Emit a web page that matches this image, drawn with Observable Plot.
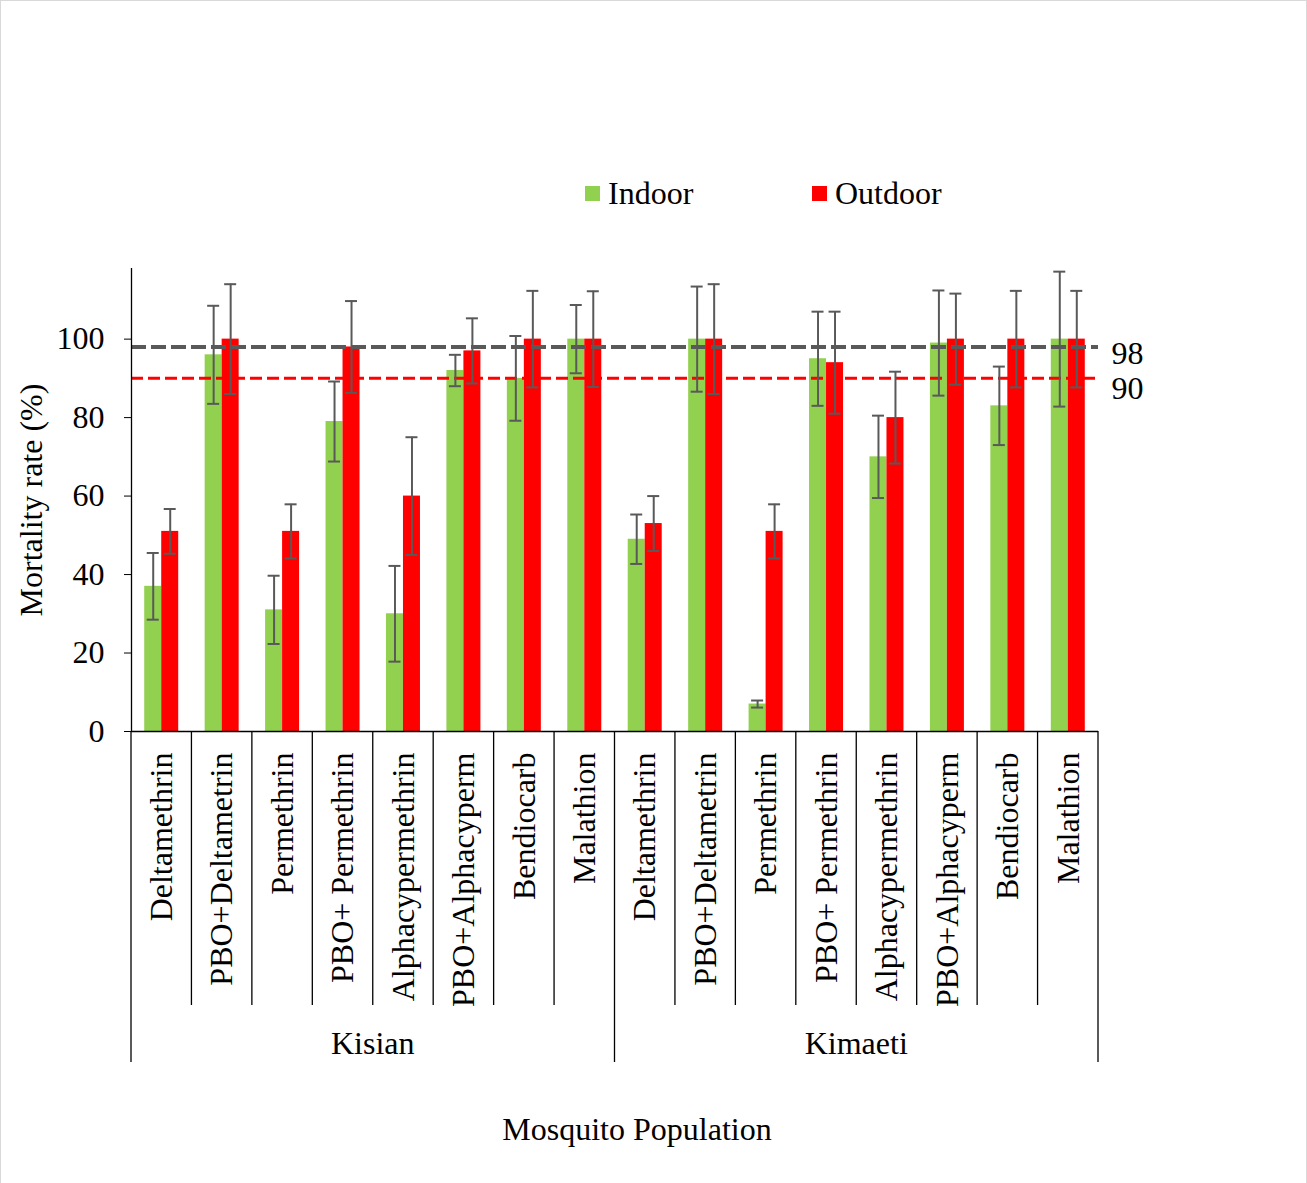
<!DOCTYPE html>
<html><head><meta charset="utf-8">
<script src="https://cdn.jsdelivr.net/npm/d3@7"></script>
<script src="https://cdn.jsdelivr.net/npm/@observablehq/plot@0.6"></script>
<style>
body{margin:0;background:#fff;}
#wrap{position:relative;width:1307px;height:1183px;font-family:"Liberation Serif","Times New Roman",serif;color:#000;overflow:hidden;}
#border{position:absolute;left:0;top:0;width:1305px;height:1190px;border:1px solid #d9d9d9;pointer-events:none;}
.item{position:absolute;top:176px;height:34px;font-size:32px;line-height:34px;display:flex;align-items:center;}
.sw{width:15px;height:15px;margin-right:8px;}
#chart{position:absolute;left:0;top:240px;}
</style></head>
<body>
<div id="wrap">
  <div id="legend"></div>
  <div id="chart"></div>
  <div id="border"></div>
</div>
<script>
const groups = ["Kisian", "Kimaeti"];
const insecticides = ["Deltamethrin","PBO+Deltametrin","Permethrin","PBO+ Permethrin","Alphacypermethrin","PBO+Alphacyperm","Bendiocarb","Malathion"];
const seriesNames = ["Indoor", "Outdoor"];
const seriesColors = ["#92D050", "#FF0000"];
const indoor  = [37, 96, 31, 79, 30, 92, 90, 100,   49, 100, 7, 95, 70, 99, 83, 100];
const outdoor = [51, 100, 51, 98, 60, 97, 100, 100, 53, 100, 51, 94, 80, 100, 100, 100];
const indoorErr  = [8.5, 12.5, 8.7, 10.2, 12.2, 4, 10.8, 8.7,  6.3, 13.4, 0.9, 12, 10.5, 13.4, 10, 17.2];
const outdoorErr = [5.7, 14, 6.9, 11.7, 15, 8.3, 12.3, 12.2,  7, 14, 6.9, 13, 11.7, 11.6, 12.3, 12.3];
const thresholds = [98, 90];
const thresholdColors = ["#595959", "#FF0000"];
const yTicks = [0, 20, 40, 60, 80, 100];

// legend
const legend = document.getElementById("legend");
const legendLefts = [585, 812];
seriesNames.forEach((s, i) => {
  const d = document.createElement("div");
  d.className = "item";
  d.style.left = legendLefts[i] + "px";
  d.innerHTML = `<div class="sw" style="background:${seriesColors[i]}"></div><span>${s}</span>`;
  legend.appendChild(d);
});

const rows = indoor.map((v, i) => ({
  group: groups[Math.floor(i / insecticides.length)],
  name: insecticides[i % insecticides.length],
  key: groups[Math.floor(i / insecticides.length)] + "|" + insecticides[i % insecticides.length],
  indoor: v, outdoor: outdoor[i], indoorErr: indoorErr[i], outdoorErr: outdoorErr[i]
}));
const keys = rows.map(d => d.key);

const W = 1307, H = 943, ML = 131, MR = 209, MT = 28, MB = 452;
const band = (W - ML - MR) / keys.length;
const bw = 17;
const half = band / 2;
const capIn = half - 6;
const font = "Liberation Serif";
const FS = 32;

const errMarks = (field, errField, dx) => [
  Plot.ruleX(rows, {x: "key", y1: d => d[field] - d[errField], y2: d => d[field] + d[errField], dx, stroke: "#595959", strokeWidth: 2}),
  Plot.tickY(rows, {x: "key", y: d => d[field] - d[errField], dx, insetLeft: capIn, insetRight: capIn, stroke: "#595959", strokeWidth: 2}),
  Plot.tickY(rows, {x: "key", y: d => d[field] + d[errField], dx, insetLeft: capIn, insetRight: capIn, stroke: "#595959", strokeWidth: 2})
];

const chart = Plot.plot({
  width: W, height: H,
  marginLeft: ML, marginRight: MR, marginTop: MT, marginBottom: MB,
  style: {fontFamily: font, fontSize: FS + "px", color: "#000", background: "transparent"},
  x: {domain: keys, padding: 0, round: false},
  y: {domain: [0, 118]},
  marks: [
    Plot.barY(rows, {x: "key", y: "indoor", fill: seriesColors[0], insetLeft: half - bw, insetRight: half}),
    Plot.barY(rows, {x: "key", y: "outdoor", fill: seriesColors[1], insetLeft: half, insetRight: half - bw}),
    Plot.ruleY([thresholds[0]], {stroke: thresholdColors[0], strokeWidth: 4, strokeDasharray: "15,5"}),
    Plot.ruleY([thresholds[1]], {stroke: thresholdColors[1], strokeWidth: 3, strokeDasharray: "12,5"}),
    ...errMarks("indoor", "indoorErr", -bw / 2),
    ...errMarks("outdoor", "outdoorErr", bw / 2),
    Plot.text([thresholds[0]], {y: d => d, text: d => String(d), frameAnchor: "right", textAnchor: "start", dx: 13, dy: 7, fontSize: FS, fill: "#000"}),
    Plot.text([thresholds[1]], {y: d => d, text: d => String(d), frameAnchor: "right", textAnchor: "start", dx: 13, dy: 10, fontSize: FS, fill: "#000"}),
    Plot.ruleY([0], {stroke: "#000", strokeWidth: 1.3}),
    Plot.ruleX([keys[0]], {x: d => d, dx: -half, stroke: "#000", strokeWidth: 1.3}),
    Plot.axisY({ticks: yTicks, tickSize: 7, tickPadding: 20, fontSize: FS, label: "Mortality rate (%)", labelAnchor: "center", labelOffset: 112, labelArrow: "none"}),
    Plot.axisX({tickSize: 0, tickPadding: 21, tickRotate: -90, fontSize: FS, tickFormat: k => k.split("|")[1], label: null})
  ]
});
document.getElementById("chart").appendChild(chart);

// category separators and group labels, using Plot's scales
const xs = chart.scale("x"), ys = chart.scale("y");
const svg = d3.select(chart.tagName.toLowerCase() === "svg" ? chart : chart.querySelector("svg"));
const y0 = ys.apply(0);
const g = svg.append("g").attr("stroke", "#000").attr("stroke-width", 1.3);
const nPer = insecticides.length;
for (let i = 0; i <= keys.length; i++) {
  const x = i < keys.length ? xs.apply(keys[i]) : xs.apply(keys[keys.length - 1]) + xs.bandwidth;
  const long = i % nPer === 0;
  g.append("line").attr("x1", x).attr("x2", x).attr("y1", y0).attr("y2", y0 + (long ? 331 : 274));
}
groups.forEach((grp, gi) => {
  const a = xs.apply(keys[gi * nPer]);
  const b = xs.apply(keys[gi * nPer + nPer - 1]) + xs.bandwidth;
  svg.append("text").attr("x", (a + b) / 2).attr("y", y0 + 316).attr("text-anchor", "middle")
    .attr("dominant-baseline", "middle").attr("font-family", font).attr("font-size", FS).attr("fill", "#000").text(grp);
});
svg.append("text").attr("x", 637).attr("y", y0 + 402).attr("text-anchor", "middle")
  .attr("dominant-baseline", "middle").attr("font-family", font).attr("font-size", FS).attr("fill", "#000").text("Mosquito Population");
</script>
</body></html>
